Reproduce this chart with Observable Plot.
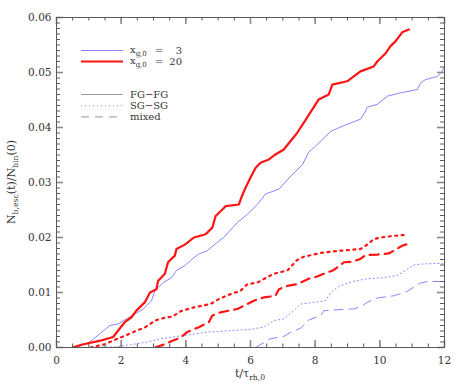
<!DOCTYPE html>
<html><head><meta charset="utf-8">
<script src="https://cdn.jsdelivr.net/npm/d3@7"></script>
<script src="https://cdn.jsdelivr.net/npm/@observablehq/plot@0.6"></script>
<style>body{margin:0;background:#fff}#chart{width:463px;height:386px}</style>
</head><body><div id="chart"></div>
<script>
// ---- data ----
const fgfg20T = [0.5,0.77,1.39,1.75,2.11,2.32,2.47,2.73,2.89,3.09,3.14,3.35,3.45,3.66,3.71,3.97,4.25,4.61,4.82,4.92,5.13,5.23,5.64,5.74,5.85,6.0,6.16,6.31,6.57,6.77,7.03,7.44,7.75,8.11,8.42,8.53,8.99,9.40,9.81,9.92,10.18,10.33,10.49,10.64,10.69,10.9];
const fgfg20V = [0,0.0005,0.0013,0.0019,0.0046,0.0055,0.0067,0.0082,0.0100,0.0106,0.0121,0.0134,0.0155,0.0167,0.0179,0.0187,0.0200,0.0206,0.0218,0.0239,0.0251,0.0257,0.0260,0.0276,0.0291,0.0309,0.0327,0.0336,0.0342,0.0351,0.0360,0.0390,0.0418,0.0451,0.0460,0.0478,0.0484,0.0502,0.0511,0.0520,0.0535,0.0548,0.0557,0.0569,0.0573,0.0578];
const fgfg3T = [0.62,1.03,1.34,1.65,1.91,2.22,2.68,2.94,3.04,3.30,3.56,3.71,3.97,4.14,4.40,4.66,4.97,5.17,5.59,5.90,6.21,6.46,6.88,7.25,7.6,7.8,8.01,8.48,8.99,9.40,9.56,9.61,9.92,10.23,10.64,11.16,11.26,11.41,11.78,11.93,12.0];
const fgfg3V = [0,0.0010,0.0025,0.0040,0.0043,0.0054,0.0070,0.0085,0.0103,0.0118,0.0127,0.0140,0.0149,0.0158,0.0170,0.0176,0.0191,0.0200,0.0227,0.0242,0.0260,0.0279,0.0288,0.0312,0.0332,0.0355,0.0366,0.0393,0.0406,0.0415,0.0430,0.0437,0.0442,0.0457,0.0463,0.0469,0.0481,0.0487,0.0493,0.0502,0.0511];
const sgsg20T = [1.05,1.5,1.85,2.1,2.45,2.75,3.05,3.40,3.58,3.84,4.25,4.76,5.02,5.38,5.69,5.90,6.21,6.52,6.72,7.14,7.44,7.65,8.17,8.78,9.40,9.61,9.81,10.02,10.43,10.85];
const sgsg20V = [0,0.0006,0.0015,0.0021,0.0030,0.0037,0.0049,0.0055,0.0056,0.0066,0.0073,0.0079,0.0088,0.0097,0.0103,0.0115,0.0118,0.0128,0.0134,0.0140,0.0159,0.0165,0.0172,0.0176,0.0179,0.0187,0.0197,0.0200,0.0203,0.0205];
const sgsg3T = [0.8,1.8,2.29,2.80,3.22,3.94,4.66,5.48,6.0,6.41,6.72,7.03,7.34,7.55,8.06,8.32,8.48,8.73,9.15,9.61,10.12,10.54,10.79,11.05,11.36,11.93,12.0];
const sgsg3V = [0,0.0001,0.0005,0.0010,0.0016,0.0022,0.0028,0.0031,0.0033,0.0037,0.0049,0.0052,0.0067,0.0079,0.0083,0.0085,0.0100,0.0111,0.0120,0.0125,0.0127,0.0131,0.0140,0.0150,0.0152,0.0153,0.0153];
const mixed20T = [3.05,3.40,3.53,3.84,4.04,4.40,4.71,4.82,5.07,5.59,5.90,6.10,6.41,6.77,6.88,7.14,7.44,7.80,8.06,8.27,8.58,8.89,9.15,9.40,9.56,9.92,10.28,10.43,10.69,10.90];
const mixed20V = [0,0.0007,0.0011,0.0018,0.0028,0.0037,0.0046,0.0058,0.0064,0.0070,0.0079,0.0085,0.0091,0.0094,0.0106,0.0112,0.0115,0.0125,0.0129,0.0134,0.0141,0.0155,0.0156,0.0161,0.0168,0.0169,0.0171,0.0176,0.0185,0.0189];
const mixed3T = [6.16,6.62,7.03,7.24,7.55,7.80,8.17,8.27,9.09,9.2,9.46,9.61,9.92,10.43,10.85,11.10,11.26,11.47,12.0];
const mixed3V = [0,0.0016,0.0020,0.0028,0.0035,0.0050,0.0058,0.0067,0.0070,0.0070,0.0076,0.0082,0.0090,0.0094,0.0102,0.0112,0.0117,0.0120,0.0120];

const xTicks = [0,2,4,6,8,10,12];
const yTicks = [0,0.01,0.02,0.03,0.04,0.05,0.06];
const xMinor = d3.range(0, 12.001, 0.5);
const yMinor = d3.range(0, 0.06005, 0.001);

// ---- styling ----
const W = 463, H = 386;
const M = {top: 17, right: 19, bottom: 39, left: 56};
const PH = H - M.top - M.bottom, PW = W - M.left - M.right;
const BLUE = "#8585ff", RED = "#ff1414", AX = "#5a5a5a", MAJ = "#8a8a8a", TXT = "#333";
const FONT = "DejaVu Serif";
const X0 = 0, X1 = 12, Y0 = 0, Y1 = 0.06;
const px2x = (X1 - X0) / PW, px2y = (Y1 - Y0) / PH;   // tick length pixels -> data units

const pts = (T, V) => T.map((t, i) => ({t, v: V[i]}));
const series = [
  {d: pts(fgfg3T, fgfg3V),   stroke: BLUE, w: 1,   dash: null},
  {d: pts(sgsg3T, sgsg3V),   stroke: BLUE, w: 1,   dash: "1,3"},
  {d: pts(mixed3T, mixed3V), stroke: BLUE, w: 1,   dash: "9,6"},
  {d: pts(fgfg20T, fgfg20V), stroke: RED,  w: 2.2, dash: null},
  {d: pts(sgsg20T, sgsg20V), stroke: RED,  w: 2.2, dash: "2,4.5"},
  {d: pts(mixed20T, mixed20V), stroke: RED, w: 2.2, dash: "9,6"}
];

const tx = (ticks, len, color, sw) => [
  Plot.ruleX(ticks, {x: d => d, y1: Y0, y2: Y0 + len * px2y, stroke: color, strokeWidth: sw}),
  Plot.ruleX(ticks, {x: d => d, y1: Y1, y2: Y1 - len * px2y, stroke: color, strokeWidth: sw})
];
const ty = (ticks, len, color, sw) => [
  Plot.ruleY(ticks, {y: d => d, x1: X0, x2: X0 + len * px2x, stroke: color, strokeWidth: sw}),
  Plot.ruleY(ticks, {y: d => d, x1: X1, x2: X1 - len * px2x, stroke: color, strokeWidth: sw})
];

const chart = Plot.plot({
  width: W, height: H,
  marginTop: M.top, marginRight: M.right, marginBottom: M.bottom, marginLeft: M.left,
  style: {fontFamily: FONT, fontSize: "10.5px", color: TXT, background: "#fff"},
  x: {domain: [X0, X1], label: null},
  y: {domain: [Y0, Y1], label: null},
  marks: [
    ...series.map(s => Plot.line(s.d, {x: "t", y: "v", stroke: s.stroke, strokeWidth: s.w,
      strokeDasharray: s.dash, strokeLinejoin: "round", clip: true})),
    ...tx(xMinor, 3.5, AX, 1), ...tx(xTicks, 7, MAJ, 1.6),
    ...ty(yMinor, 4, AX, 1), ...ty(yTicks, 7, MAJ, 1.6),
    Plot.frame({stroke: AX, strokeWidth: 1}),
    Plot.axisX({ticks: xTicks, tickSize: 0, tickPadding: 9, tickFormat: d => String(d), label: null}),
    Plot.axisY({ticks: yTicks, tickSize: 0, tickPadding: 5, tickFormat: d3.format(".2f"), label: null})
  ]
});
document.getElementById("chart").appendChild(chart);

// ---- axis titles with subscripts, and the in-plot legend ----
const svg = d3.select(chart);
function subText(g, parts, size) {
  let prevSub = false;
  parts.forEach(([txt, sub]) => {
    const dy = sub ? (prevSub ? 0 : 3) : (prevSub ? -3 : 0);
    g.append("tspan").attr("dy", dy).attr("font-size", sub ? size * 0.7 : size).text(txt);
    prevSub = !!sub;
  });
}
const ylab = svg.append("text").attr("transform", `translate(15,${(M.top + H - M.bottom) / 2}) rotate(-90)`)
  .attr("text-anchor", "middle").attr("fill", TXT).attr("font-family", FONT).attr("font-size", 11);
subText(ylab, [["N"], ["b,esc", 1], ["(t)/N"], ["bin", 1], ["(0)"]], 11);
const xlab = svg.append("text").attr("x", M.left + PW / 2).attr("y", 377)
  .attr("text-anchor", "middle").attr("fill", TXT).attr("font-family", FONT).attr("font-size", 11);
subText(xlab, [["t/τ"], ["rh,0", 1]], 11);

const LF = 10;
const legendA = [{label: "3", stroke: BLUE, w: 1}, {label: "20", stroke: RED, w: 2.2}];
const legendB = [{label: "FG\u2212FG", dash: null}, {label: "SG\u2212SG", dash: "1,3"}, {label: "mixed", dash: "8,6"}];
const lg = svg.append("g").attr("font-family", FONT).attr("font-size", LF).attr("fill", TXT)
  .attr("text-anchor", "start");
legendA.forEach((e, i) => {
  const y = 50.5 + i * 11;
  lg.append("line").attr("x1", 81).attr("x2", 123).attr("y1", y).attr("y2", y)
    .attr("stroke", e.stroke).attr("stroke-width", e.w);
  const t = lg.append("text").attr("x", 130).attr("y", y + 2);
  subText(t, [["x"], ["g,0", 1]], LF);
  lg.append("text").attr("x", 155).attr("y", y + 3.5).text("=");
  lg.append("text").attr("x", 182).attr("y", y + 3.5).attr("text-anchor", "end").text(e.label);
});
legendB.forEach((e, i) => {
  const y = 94.5 + i * 11.2;
  lg.append("line").attr("x1", 81).attr("x2", 123).attr("y1", y).attr("y2", y)
    .attr("stroke", "#999").attr("stroke-width", 1).attr("stroke-dasharray", e.dash);
  lg.append("text").attr("x", 130).attr("y", y + 3.5).text(e.label);
});
</script>
</body></html>
